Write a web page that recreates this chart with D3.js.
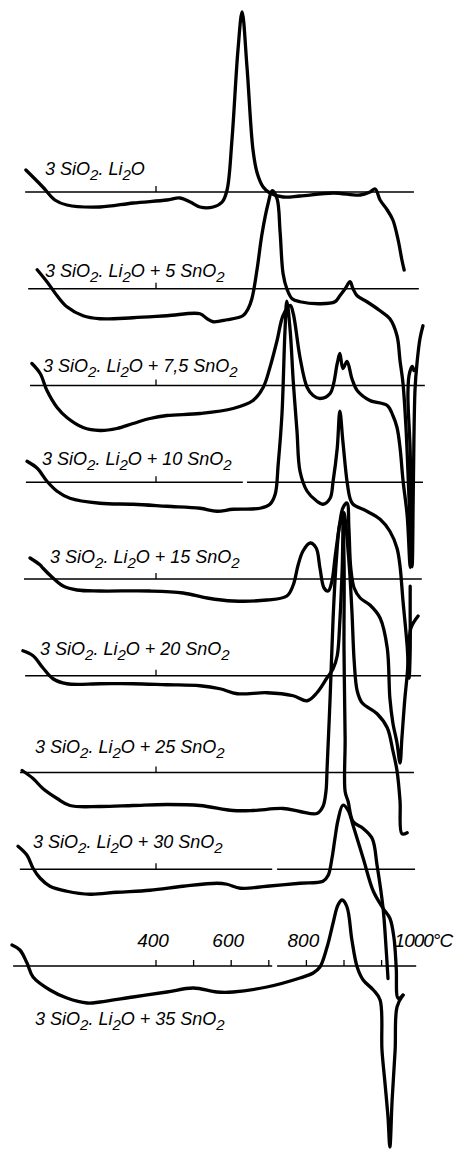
<!DOCTYPE html>
<html><head><meta charset="utf-8">
<script src="https://cdn.jsdelivr.net/npm/d3@7"></script>
<style>html,body{margin:0;padding:0;background:#fff;}svg{display:block;}</style>
</head><body>
<svg id="chart" width="456" height="1149"></svg>
<script>
// ---- data (temperature °C, DTA signal ΔT in arbitrary units, + = exotherm) ----
const samples = ["3SiO2.Li2O", "+5SnO2", "+7,5SnO2", "+10SnO2", "+15SnO2", "+20SnO2", "+25SnO2", "+30SnO2", "+35SnO2"];
const snO2 = [null, "5", "7,5", "10", "15", "20", "25", "30", "35"];

const dta_0 = [[54,22],[99,5],[131,-8],[163,-13],[251,-15],[339,-11],[429,-8],[464,-6],[491,-10],[517,-15],[552,-15],[576,-10],[589,2],[602,52],[618,142],[629,180],[642,125],[658,42],[669,19],[685,5],[703,-1],[738,-5],[783,-4],[871,-1],[943,-3],[969,0],[983,3],[996,-8],[1015,-18],[1030,-28],[1044,-48],[1054,-68],[1060,-78]];
const dta_5 = [[84,19],[110,7],[137,-7],[163,-18],[206,-27],[251,-30],[339,-29],[429,-27],[517,-25],[536,-30],[552,-33],[589,-31],[631,-27],[645,-20],[655,-10],[669,20],[682,55],[698,85],[709,98],[722,90],[730,57],[738,15],[748,0],[762,-10],[783,-13],[836,-15],[876,-13],[889,-7],[903,0],[916,7],[924,0],[935,-7],[961,-13],[996,-22],[1022,-30],[1041,-47],[1049,-72],[1057,-95],[1065,-140],[1073,-210],[1081,-278],[1084,-210],[1086,-150],[1089,-100],[1094,-75],[1102,-50],[1110,-37]];
const dta_75 = [[70,22],[92,12],[110,-5],[137,-22],[163,-32],[206,-42],[251,-45],[296,-43],[339,-38],[384,-33],[429,-30],[517,-28],[605,-23],[658,-15],[685,-2],[703,18],[722,45],[738,70],[757,80],[765,72],[783,28],[802,-2],[818,-10],[836,-13],[863,-8],[882,22],[889,32],[897,17],[908,24],[921,7],[935,-5],[969,-15],[1015,-20],[1030,-30],[1041,-42],[1049,-62],[1057,-95],[1068,-130],[1076,-182],[1078,-135],[1076,-65],[1070,-10],[1073,10],[1081,19],[1086,15]];
const dta_10 = [[57,21],[84,14],[110,1],[137,-9],[171,-16],[251,-21],[339,-22],[429,-24],[517,-26],[562,-29],[605,-27],[677,-26],[703,-22],[717,-12],[725,18],[735,68],[743,151],[748,181],[757,151],[765,101],[775,51],[783,11],[802,-9],[828,-19],[844,-22],[863,-16],[871,1],[882,34],[889,71],[897,41],[908,1],[916,-16],[924,-22],[961,-29],[996,-37],[1022,-49],[1041,-66],[1049,-84],[1057,-119],[1068,-164],[1073,-196],[1076,-169],[1076,-129],[1076,-104]];
const dta_15 = [[65,21],[92,14],[99,11],[126,1],[153,-7],[190,-11],[251,-12],[384,-12],[472,-14],[536,-19],[605,-22],[695,-21],[748,-17],[765,-6],[778,14],[791,28],[810,36],[826,31],[836,11],[847,-9],[858,-12],[868,-2],[876,21],[887,51],[897,71],[908,76],[913,51],[918,11],[927,-9],[943,-19],[969,-26],[996,-39],[1015,-69],[1022,-119],[1030,-144],[1041,-164],[1049,-184],[1054,-159],[1062,-119],[1068,-96],[1073,-69],[1078,-49],[1097,-37]];
const dta_20 = [[46,25],[73,20],[99,8],[126,-3],[163,-8],[251,-8],[339,-8],[429,-9],[517,-10],[570,-13],[616,-18],[695,-17],[765,-20],[802,-25],[828,-17],[855,-2],[871,7],[882,20],[889,55],[895,105],[900,163],[913,115],[921,65],[927,15],[935,-15],[948,-27],[988,-38],[1015,-52],[1030,-75],[1041,-95],[1049,-125],[1054,-158],[1068,-157]];
const dta_25 = [[44,2],[73,-6],[99,-16],[137,-26],[171,-33],[251,-34],[339,-33],[429,-32],[517,-33],[605,-38],[658,-38],[738,-36],[783,-39],[828,-41],[844,-34],[852,-19],[855,4],[863,74],[871,154],[879,209],[889,249],[895,254],[900,214],[900,124],[903,34],[903,-19],[911,-29],[924,-49],[951,-56],[975,-66],[988,-93],[1004,-136],[1012,-176],[1017,-206]];
const dta_30 = [[33,23],[57,14],[73,1],[92,-9],[118,-17],[163,-22],[225,-25],[296,-23],[384,-21],[472,-17],[562,-14],[589,-15],[624,-19],[695,-17],[783,-14],[844,-12],[858,-6],[868,11],[876,31],[884,49],[897,64],[911,59],[924,44],[951,11],[978,-22],[1004,-39],[1022,-49],[1033,-69],[1039,-99],[1044,-129],[1057,-126]];
const dta_35 = [[17,21],[38,16],[57,3],[73,-11],[118,-24],[163,-32],[217,-37],[251,-36],[339,-31],[429,-26],[499,-22],[562,-26],[605,-26],[695,-21],[783,-12],[818,-7],[836,-1],[855,19],[871,43],[884,61],[895,66],[908,59],[921,26],[935,-1],[951,-14],[978,-24],[996,-34],[1001,-84],[1009,-117],[1017,-151],[1022,-181],[1028,-134],[1036,-84],[1041,-41],[1057,-29]];
const series = [dta_0, dta_5, dta_75, dta_10, dta_15, dta_20, dta_25, dta_30, dta_35];

// baseline extents (°C) and gaps
const baseStart = [52, 60, 65, 54, 49, 52, 38, 38, 20];
const baseEnd   = [1086, 1099, 1115, 1110, 1107, 1105, 1086, 1089, 1092];
const baseGaps  = [null, null, null, [631, 642], null, null, null, [709, 722], [709, 722]];

const panelTick = 400;
const axisTicks = [400, 500, 600, 700, 800, 900, 1000];
const axisLabelTemps = [400, 600, 800, 1000];
const axisLabels = ["400", "600", "800", "1000°C"];

// ---- layout ----
const labelX = [45, 45, 43, 42, 50, 40, 35, 33, 35];
const labelY = [175, 277, 372, 465, 563, 655, 753, 848, 1025];

const svg = d3.select("#chart");
const x = d3.scaleLinear().domain([0, 1000]).range([5.6, 381.6]);
const panelY = d3.scalePoint().domain(d3.range(samples.length)).range([192, 966]);
const s = d3.scaleLinear().domain([-300, 300]).range([300, -300]);

const line = d3.line().x(d => x(d[0])).y(d => s(d[1])).curve(d3.curveCatmullRom.alpha(0.5));

const font = "'Liberation Sans', Arial, sans-serif";

series.forEach((data, i) => {
  const g = svg.append("g").attr("transform", `translate(0,${panelY(i)})`);
  const segs = baseGaps[i] ? [[baseStart[i], baseGaps[i][0]], [baseGaps[i][1], baseEnd[i]]] : [[baseStart[i], baseEnd[i]]];
  segs.forEach(sg => g.append("line").attr("x1", x(sg[0])).attr("x2", x(sg[1])).attr("y1", 0).attr("y2", 0)
    .attr("stroke", "#000").attr("stroke-width", 1.4));
  const ticks = i === series.length - 1 ? axisTicks : [panelTick];
  ticks.forEach(t => g.append("line").attr("x1", x(t)).attr("x2", x(t)).attr("y1", 0).attr("y2", -6)
    .attr("stroke", "#000").attr("stroke-width", 1.3));
  g.append("path").attr("d", line(data)).attr("fill", "none").attr("stroke", "#000")
    .attr("stroke-width", 3.3).attr("stroke-linejoin", "round").attr("stroke-linecap", "round");
});

series.forEach((d, i) => {
  const t = svg.append("text").attr("x", labelX[i]).attr("y", labelY[i])
    .attr("font-family", font).attr("font-style", "italic").attr("font-size", 18).attr("fill", "#000");
  t.append("tspan").text("3 SiO");
  t.append("tspan").attr("dy", 5).attr("font-size", 15).text("2");
  t.append("tspan").attr("dy", -5).text(". Li");
  t.append("tspan").attr("dy", 5).attr("font-size", 15).text("2");
  t.append("tspan").attr("dy", -5).text(snO2[i] ? "O + " + snO2[i] + " SnO" : "O");
  if (snO2[i]) t.append("tspan").attr("dy", 5).attr("font-size", 15).text("2");
});

const last = series.length - 1;
axisLabelTemps.forEach((tmp, k) => {
  const isLast = k === axisLabelTemps.length - 1;
  svg.append("text").attr("x", isLast ? x(tmp) + 13 : x(tmp) - 3).attr("y", panelY(last) - 19)
    .attr("text-anchor", isLast ? "start" : "middle")
    .attr("font-family", font).attr("font-style", "italic").attr("font-size", 19)
    .attr("letter-spacing", isLast ? -1 : 0).text(axisLabels[k]);
});
</script>
</body></html>
